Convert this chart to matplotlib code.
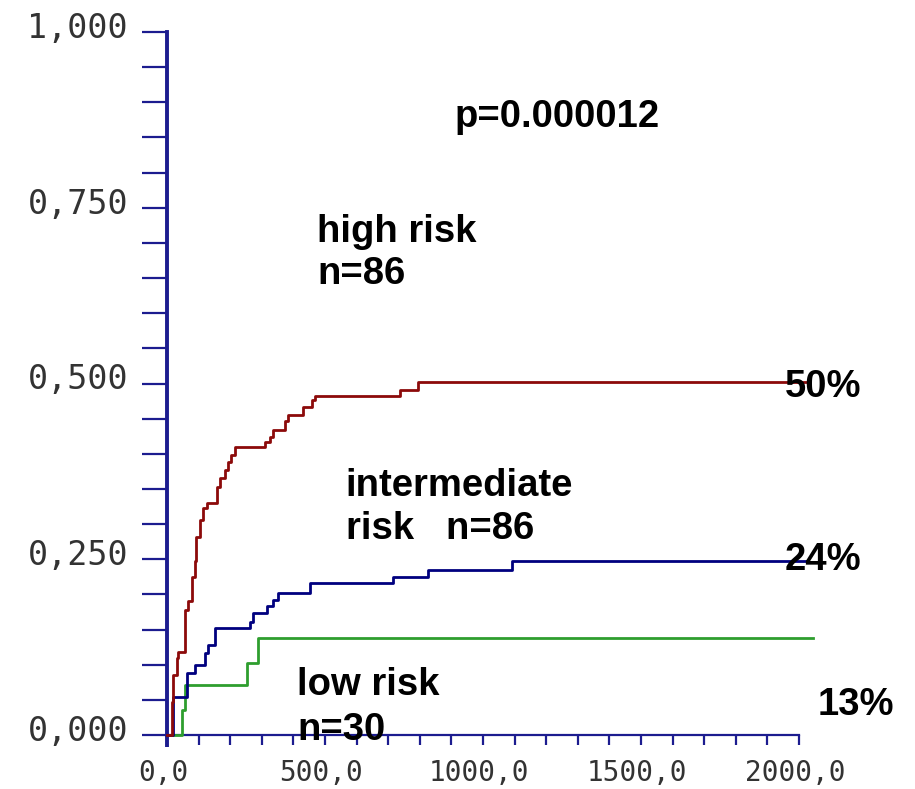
import matplotlib
matplotlib.use("Agg")
import matplotlib.pyplot as plt
from matplotlib.ticker import MultipleLocator, FuncFormatter
from matplotlib.transforms import ScaledTranslation

# ── Data (cumulative incidence step curves) ───────────────────────────────────

high_t = [0, 15, 20, 31, 36, 57, 67, 78, 89, 93, 104, 115, 125, 157, 168,
          183, 194, 204, 215, 310, 326, 336, 373, 384, 431, 458, 468, 737,
          794, 2030]
high_v = [0, 0.047, 0.085, 0.110, 0.118, 0.178, 0.190, 0.225, 0.247, 0.282,
          0.306, 0.323, 0.330, 0.353, 0.365, 0.377, 0.389, 0.398, 0.410,
          0.417, 0.424, 0.434, 0.446, 0.455, 0.467, 0.477, 0.482, 0.491,
          0.502, 0.502]

mid_t = [0, 20, 62, 89, 120, 131, 152, 263, 273, 315, 336, 352, 452, 716,
         827, 1091, 2030]
mid_v = [0, 0.054, 0.088, 0.100, 0.117, 0.128, 0.152, 0.161, 0.173, 0.183,
         0.192, 0.202, 0.216, 0.225, 0.235, 0.247, 0.247]

low_t = [0, 46, 57, 252, 289, 2045]
low_v = [0, 0.036, 0.071, 0.103, 0.138, 0.138]

P_TEXT = "p=0.000012"
END_LABELS = ["50%", "24%", "13%"]

# ── Style ─────────────────────────────────────────────────────────────────────

AXIS_COLOR = "#1c1c8f"
RED   = "#8c0a0a"
BLUE  = "#00007f"
GREEN = "#2e9e2e"
TICK_TEXT = "#333333"
W, H = 915, 789

fig = plt.figure(figsize=(W / 100, H / 100), dpi=100)
ax = fig.add_axes([167 / W, 54 / H, (799 - 167) / W, (735 - 32) / H])
ax.set_xlim(0, 2000)
ax.set_ylim(0, 1)

for s in ("top", "right"):
    ax.spines[s].set_visible(False)
ax.spines["left"].set_color(AXIS_COLOR)
ax.spines["left"].set_linewidth(2.8)
ax.spines["bottom"].set_color(AXIS_COLOR)
ax.spines["bottom"].set_linewidth(1.6)
# y axis runs a little below the x axis
ax.plot([0, 0], [0, -12 / 703], color=AXIS_COLOR, lw=2.8,
        clip_on=False, solid_capstyle="butt")

ax.yaxis.set_major_locator(MultipleLocator(0.25))
ax.yaxis.set_minor_locator(MultipleLocator(0.05))
ax.xaxis.set_major_locator(MultipleLocator(500))
ax.xaxis.set_minor_locator(MultipleLocator(100))
ax.yaxis.set_major_formatter(FuncFormatter(lambda v, p: f"{v:.3f}".replace(".", ",")))
ax.xaxis.set_major_formatter(FuncFormatter(lambda v, p: f"{v:.1f}".replace(".", ",")))

ax.tick_params(axis="y", which="both", direction="out", length=18, width=1.6,
               color=AXIS_COLOR, pad=10, labelsize=24, labelcolor=TICK_TEXT)
ax.tick_params(axis="x", which="both", direction="out", length=7, width=1.6,
               color=AXIS_COLOR, pad=10, labelsize=20, labelcolor=TICK_TEXT)
for lab in ax.get_yticklabels():
    lab.set_fontfamily("DejaVu Sans Mono")
    lab.set_transform(lab.get_transform() + ScaledTranslation(0, 0.07, fig.dpi_scale_trans))
for lab in ax.get_xticklabels():
    lab.set_fontfamily("DejaVu Sans Mono")
    lab.set_transform(lab.get_transform() + ScaledTranslation(-0.04, 0, fig.dpi_scale_trans))

# ── Curves ────────────────────────────────────────────────────────────────────

ax.step(low_t, low_v, where="post", color=GREEN, lw=2.0, clip_on=False, zorder=3)
ax.step(mid_t, mid_v, where="post", color=BLUE, lw=2.0, clip_on=False, zorder=4)
ax.step(high_t, high_v, where="post", color=RED, lw=2.0, clip_on=False, zorder=5)

# ── Annotations ───────────────────────────────────────────────────────────────

txt = dict(fontsize=27.5, fontweight="bold", family="Liberation Sans",
           color="black", va="baseline", ha="left", clip_on=False, zorder=6)
ax.text(911, 0.865, P_TEXT, **txt)
ax.text(475, 0.701, "high risk", **txt)
ax.text(475, 0.642, "n=86", **txt)
ax.text(566, 0.340, "intermediate", **txt)
ax.text(566, 0.279, "risk   n=86", **txt)
ax.text(411, 0.057, "low risk", **txt)
ax.text(411, -0.007, "n=30", **txt)
ax.text(1956, 0.481, END_LABELS[0], **txt)
ax.text(1956, 0.235, END_LABELS[1], **txt)
ax.text(2060, 0.028, END_LABELS[2], **txt)

fig.savefig("out.png", dpi=100, facecolor="white")
